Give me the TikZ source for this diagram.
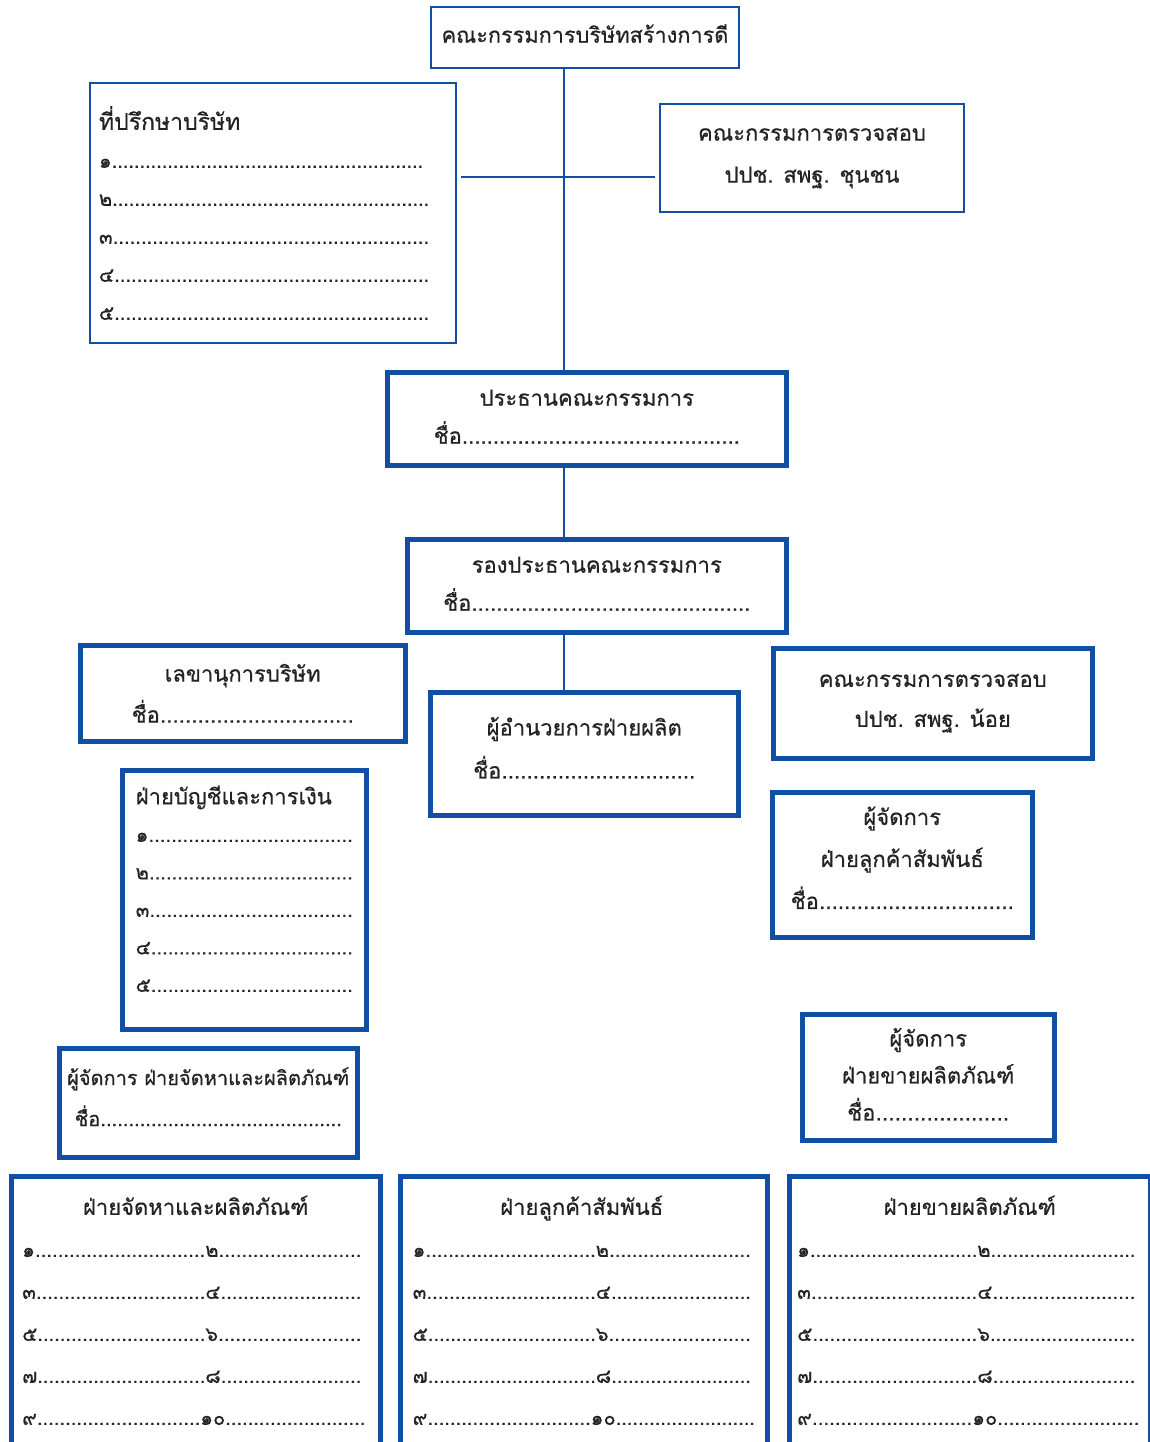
\documentclass[tikz,border=0pt]{standalone}
\usepackage{fontspec}
\setmainfont[Script=Thai,RawFeature={embolden=0.6}]{Loma}
\definecolor{chartblue}{RGB}{18,78,163}
\definecolor{inktext}{RGB}{35,35,35}
\newcommand{\dotcell}[2]{\makebox[#1][l]{#2\xleaders\hbox{.}\hfill}}

\begin{document}
\begin{tikzpicture}[x=1pt,y=-1pt]
\tikzstyle{thinbox} = [rectangle, draw=chartblue, line width=2pt, anchor=north west, inner sep=0pt, text=inktext]
\tikzstyle{heavybox} = [rectangle, draw=chartblue, line width=4.5pt, anchor=north west, inner sep=0pt, text=inktext]
\tikzstyle{link} = [draw=chartblue, line width=1.2pt]

\useasboundingbox (0,0) rectangle (1150,1442);
\clip (0,0) rectangle (1150,1442);

% top of the chart
\node (board) [thinbox, minimum width=308pt, minimum height=61pt, text depth=8pt, font=\fontsize{21.7}{28}\selectfont] at (430,6) {คณะกรรมการบริษัทสร้างการดี};
\node (adviser) [thinbox, minimum width=366pt, minimum height=260pt, align=left, font=\fontsize{20}{38}\selectfont] at (89,82)
  {\makebox[348pt][l]{\fontsize{23}{38}\selectfont ที่ปรึกษาบริษัท}\\ \dotcell{324pt}{๑}\\ \dotcell{330pt}{๒}\\ \dotcell{330pt}{๓}\\ \dotcell{330pt}{๔}\\ \dotcell{330pt}{๕}};
\node (audit) [thinbox, minimum width=304pt, minimum height=108pt, align=center, font=\fontsize{22}{42}\selectfont] at (659,103) {คณะกรรมการตรวจสอบ\\ ปปช. สพฐ. ชุนชน};
\coordinate (spine) at (564,177);

% chairman and vice chairman
\node (chair) [heavybox, minimum width=399pt, minimum height=93pt, text depth=4pt, align=center, font=\fontsize{22}{38}\selectfont] at (385,370) {ประธานคณะกรรมการ\\ \dotcell{306pt}{ชื่อ}};
\node (vice) [heavybox, minimum width=379pt, minimum height=93pt, text depth=4pt, align=center, font=\fontsize{22}{38}\selectfont] at (405,537) {รองประธานคณะกรรมการ\\ \dotcell{307pt}{ชื่อ}};

% managers
\node (secretary) [heavybox, minimum width=325pt, minimum height=96pt, align=center, font=\fontsize{22}{41}\selectfont] at (78,643) {เลขานุการบริษัท\\ \dotcell{222pt}{ชื่อ}};
\node (director) [heavybox, minimum width=308pt, minimum height=123pt, text depth=12pt, align=center, font=\fontsize{22}{43}\selectfont] at (428,690) {ผู้อำนวยการฝ่ายผลิต\\ \dotcell{222pt}{ชื่อ}};
\node (audit2) [heavybox, minimum width=319pt, minimum height=110pt, align=center, font=\fontsize{22}{40}\selectfont] at (771,646) {คณะกรรมการตรวจสอบ\\ ปปช. สพฐ. น้อย};
\node (account) [heavybox, minimum width=244pt, minimum height=259pt, text depth=22pt, align=left, font=\fontsize{20}{37.5}\selectfont] at (120,768)
  {\makebox[217pt][l]{\fontsize{22}{37.5}\selectfont ฝ่ายบัญชีและการเงิน}\\ \dotcell{217pt}{๑}\\ \dotcell{217pt}{๒}\\ \dotcell{217pt}{๓}\\ \dotcell{217pt}{๔}\\ \dotcell{217pt}{๕}};
\node (crmgr) [heavybox, minimum width=260pt, minimum height=145pt, text depth=14pt, align=center, font=\fontsize{22}{42}\selectfont] at (770,790) {ผู้จัดการ\\ ฝ่ายลูกค้าสัมพันธ์\\ \dotcell{223pt}{ชื่อ}};
\node (srcmgr) [heavybox, minimum width=298pt, minimum height=109pt, text depth=12pt, align=center, font=\fontsize{20}{41}\selectfont] at (57,1046) {ผู้จัดการ ฝ่ายจัดหาและผลิตภัณฑ์\\ \dotcell{267pt}{ชื่อ}};
\node (salemgr) [heavybox, minimum width=252pt, minimum height=126pt, text depth=6pt, align=center, font=\fontsize{22}{37}\selectfont] at (800,1012) {ผู้จัดการ\\ ฝ่ายขายผลิตภัณฑ์\\ \dotcell{162pt}{ชื่อ}};

% departments
\node (srcdept) [heavybox, minimum width=369pt, minimum height=276pt, text depth=8pt, align=left, font=\fontsize{20}{42}\selectfont] at (9,1174)
  {\makebox[347pt]{\fontsize{22}{42}\selectfont ฝ่ายจัดหาและผลิตภัณฑ์}\\
   \dotcell{183pt}{๑}\dotcell{156pt}{๒}\\ \dotcell{183pt}{๓}\dotcell{156pt}{๔}\\ \dotcell{183pt}{๕}\dotcell{156pt}{๖}\\
   \dotcell{183pt}{๗}\dotcell{156pt}{๘}\\ \dotcell{178pt}{๙}\dotcell{165pt}{๑๐}};
\node (crdept) [heavybox, minimum width=367pt, minimum height=276pt, text depth=8pt, align=left, font=\fontsize{20}{42}\selectfont] at (398,1174)
  {\makebox[338pt]{\fontsize{22}{42}\selectfont ฝ่ายลูกค้าสัมพันธ์}\\
   \dotcell{183pt}{๑}\dotcell{155pt}{๒}\\ \dotcell{183pt}{๓}\dotcell{155pt}{๔}\\ \dotcell{183pt}{๕}\dotcell{155pt}{๖}\\
   \dotcell{183pt}{๗}\dotcell{155pt}{๘}\\ \dotcell{178pt}{๙}\dotcell{164pt}{๑๐}};
\node (saledept) [heavybox, minimum width=361pt, minimum height=276pt, text depth=8pt, align=left, font=\fontsize{20}{42}\selectfont] at (787,1174)
  {\makebox[345pt]{\fontsize{22}{42}\selectfont ฝ่ายขายผลิตภัณฑ์}\\
   \dotcell{180pt}{๑}\dotcell{158pt}{๒}\\ \dotcell{180pt}{๓}\dotcell{158pt}{๔}\\ \dotcell{180pt}{๕}\dotcell{158pt}{๖}\\
   \dotcell{180pt}{๗}\dotcell{158pt}{๘}\\ \dotcell{175pt}{๙}\dotcell{167pt}{๑๐}};

\draw [link] (board.south -| spine) -- (chair.north -| spine);
\draw [link, shorten <=4pt, shorten >=4pt] (spine -| adviser.east) -- (spine -| audit.west);
\draw [link] (chair.south -| spine) -- (vice.north -| spine);
\draw [link] (vice.south -| spine) -- (director.north -| spine);
\end{tikzpicture}
\end{document}
